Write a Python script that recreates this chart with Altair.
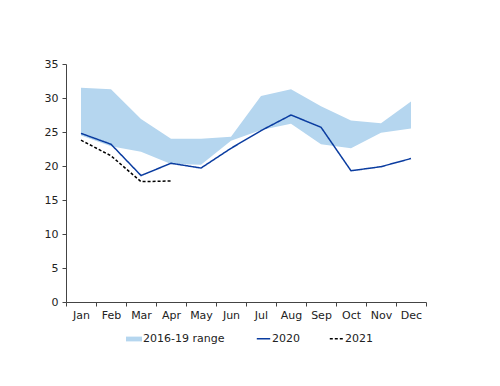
import altair as alt
import pandas as pd

months = ["Jan", "Feb", "Mar", "Apr", "May", "Jun", "Jul", "Aug", "Sep", "Oct", "Nov", "Dec"]
range_low = [24.5, 22.9, 22.1, 20.3, 20.2, 23.7, 25.3, 26.2, 23.2, 22.6, 24.9, 25.5]
range_high = [31.5, 31.3, 26.9, 24.0, 24.0, 24.3, 30.3, 31.3, 28.8, 26.7, 26.3, 29.5]
s2020 = [24.8, 23.2, 18.6, 20.4, 19.7, 22.6, 25.2, 27.5, 25.7, 19.3, 19.9, 21.1]
s2021 = [23.8, 21.5, 17.7, 17.8]
y_ticks = [0, 5, 10, 15, 20, 25, 30, 35]

band_df = pd.DataFrame({"month": months, "low": range_low, "high": range_high,
                        "series": ["2016-19 range"] * len(months)})
line_df = pd.DataFrame(
    {"month": months + months[:len(s2021)],
     "value": s2020 + s2021,
     "series": ["2020"] * len(s2020) + ["2021"] * len(s2021)}
)

FONT = "DejaVu Sans"

x_enc = alt.X(
    "month:N", sort=months, title=None,
    scale=alt.Scale(type="band", paddingInner=0, paddingOuter=0, domain=months),
    axis=alt.Axis(labelAngle=0, tickBand="extent", tickSize=4, labelPadding=3),
)
y_scale = alt.Scale(domain=[0, 35], nice=False)
y_axis = alt.Axis(values=y_ticks, grid=False, tickSize=4, labelPadding=4, labelOverlap=False)

line_legend = alt.Legend(title=None, orient="none", legendX=190, legendY=267,
                         direction="horizontal", symbolType="stroke",
                         symbolSize=180, symbolStrokeWidth=1.5,
                         columnPadding=26, labelOffset=1)

area = alt.Chart(band_df).mark_area(opacity=1).encode(
    x=x_enc,
    y=alt.Y("low:Q", scale=y_scale, title=None, axis=y_axis),
    y2="high:Q",
    fill=alt.Fill("series:N", scale=alt.Scale(domain=["2016-19 range"], range=["#b5d6ef"]),
                  legend=alt.Legend(title=None, orient="none", legendX=60, legendY=267,
                                    symbolType="M-1,-0.3H1V0.3H-1Z", symbolSize=256,
                                    symbolStrokeWidth=0, labelOffset=1)),
)

lines = alt.Chart(line_df).mark_line(strokeWidth=1.5).encode(
    x=x_enc,
    y=alt.Y("value:Q", scale=y_scale, title=None, axis=y_axis),
    stroke=alt.Stroke("series:N", scale=alt.Scale(domain=["2020", "2021"], range=["#0a3ca0", "#000000"]),
                      legend=line_legend),
    strokeDash=alt.StrokeDash("series:N", scale=alt.Scale(domain=["2020", "2021"], range=[[1, 0], [3, 2]]),
                              legend=line_legend),
)

chart = alt.layer(area, lines).properties(
    width=360, height=238, autosize="none",
    padding={"left": 58, "top": 56, "right": 16, "bottom": 76},
).configure_view(stroke=None).configure_axis(
    labelFont=FONT, labelFontSize=11, labelColor="#222222",
    domainColor="#444444", tickColor="#444444",
).configure_legend(
    labelFont=FONT, labelFontSize=11, labelColor="#222222",
)

chart.save("out.html", embed_options={"renderer": "svg", "actions": False})
